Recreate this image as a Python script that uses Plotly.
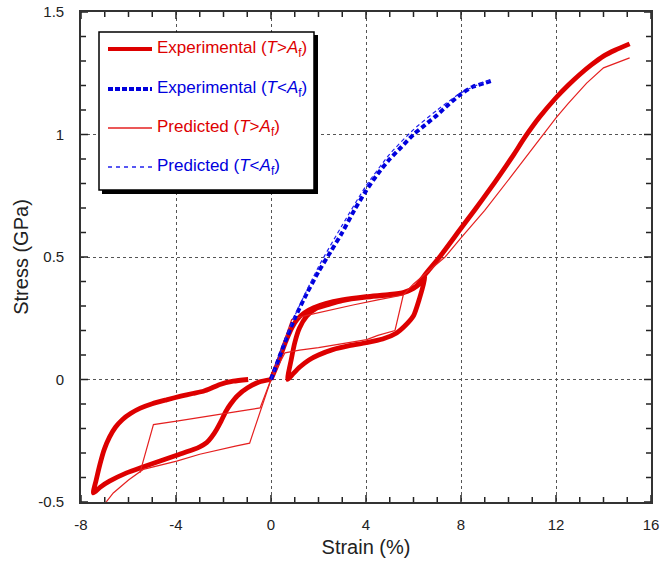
import plotly.graph_objects as go

# ---------------- data (strain in %, stress in GPa) ----------------
# Experimental, T > Af : tension (load, unload, reload up to 15 %)
exp_hot_t_strain = [0, 0.3, 0.6, 0.9, 1.1, 1.4, 1.8, 2.3, 3.0, 4.0, 5.0, 5.6, 6.0, 6.3, 6.5,
                    6.25, 6.0, 5.6, 5.29, 4.7, 4.0, 3.3, 2.6, 2.0, 1.6, 1.2, 0.9, 0.7,
                    0.85, 1.0, 1.2, 1.5, 1.9, 2.4, 3.0, 4.0, 5.0, 5.6, 6.1, 6.5, 7.1, 7.96,
                    8.6, 9.2, 9.64, 10.2, 10.7, 11.3, 12.0, 12.5, 13.0, 13.5, 14.0, 14.5, 15.1]
exp_hot_t_stress = [0, 0.07, 0.15, 0.215, 0.245, 0.272, 0.293, 0.31, 0.325, 0.338, 0.347, 0.356, 0.372, 0.395, 0.42,
                    0.33, 0.26, 0.215, 0.19, 0.165, 0.15, 0.138, 0.122, 0.1, 0.08, 0.05, 0.02, 0.0,
                    0.08, 0.15, 0.21, 0.258, 0.29, 0.305, 0.322, 0.336, 0.345, 0.355, 0.38, 0.43, 0.5, 0.612,
                    0.695, 0.775, 0.835, 0.915, 0.99, 1.07, 1.15, 1.2, 1.245, 1.285, 1.32, 1.345, 1.37]
# Experimental, T > Af : compression (load, unload)
exp_hot_c_strain = [0, -0.5, -1.0, -1.4, -1.7, -1.9, -2.1, -2.29, -2.5, -2.71, -3.0, -3.27, -4.0, -4.67, -5.4,
                    -6.08, -6.8, -7.2, -7.48,
                    -7.36, -7.2, -7.02, -6.8, -6.55, -6.25, -5.9, -5.5, -5.0, -4.4, -3.8, -3.3, -2.85,
                    -2.5, -2.15, -1.59, -0.96]
exp_hot_c_stress = [0, -0.01, -0.035, -0.065, -0.1, -0.13, -0.17, -0.204, -0.235, -0.258, -0.275, -0.286, -0.31, -0.333, -0.357,
                    -0.381, -0.415, -0.44, -0.463,
                    -0.41, -0.345, -0.285, -0.235, -0.195, -0.163, -0.138, -0.117, -0.099, -0.083, -0.068, -0.057, -0.048,
                    -0.035, -0.02, -0.007, 0.0]

# Predicted, T > Af : tension cycle and loading to 15 %
pred_hot_t_strain = [0, 0.87, 1.5, 2.5, 3.5, 4.5, 5.57, 5.22, 4.5, 4.03, 3.0, 2.0, 1.2, 0.59, 0,
                     None, 5.57, 6.0, 6.6, 7.33, 8.0, 9.0, 10.2, 11.47, 12.0, 12.5, 13.29, 14.0, 14.4, 15.1]
pred_hot_t_stress = [0, 0.245, 0.262, 0.285, 0.305, 0.325, 0.345, 0.2, 0.18, 0.163, 0.145, 0.13, 0.12, 0.109, 0,
                     None, 0.345, 0.39, 0.44, 0.5, 0.578, 0.69, 0.84, 1.0, 1.068, 1.125, 1.21, 1.272, 1.287, 1.313]
# Predicted, T > Af : compression cycle
pred_hot_c_strain = [0, -0.9, -1.5, -2.15, -3.0, -3.97, -4.7, -5.38, -6.0, -6.64, -6.92, -7.3,
                     None, -5.52, -4.95, -3.97, -2.57, -1.31, -0.46, 0]
pred_hot_c_stress = [0, -0.26, -0.272, -0.286, -0.305, -0.333, -0.352, -0.367, -0.41, -0.463, -0.497, -0.54,
                     None, -0.381, -0.184, -0.17, -0.15, -0.129, -0.116, 0]

# T < Af : loading only
exp_cold_strain = [0, 0.5, 1.0, 1.5, 2.0, 2.5, 3.0, 3.5, 4.0, 4.5, 5.0, 5.5, 6.0, 6.5, 7.0, 7.5, 8.0, 8.5, 9.0, 9.3]
exp_cold_stress = [0, 0.13, 0.25, 0.35, 0.44, 0.52, 0.6, 0.69, 0.77, 0.84, 0.9, 0.95, 1.0, 1.04, 1.08, 1.125, 1.165, 1.195, 1.21, 1.22]
pred_cold_strain = [0, 0.5, 1.0, 2.0, 3.0, 4.0, 5.0, 6.0, 7.0, 8.0, 9.0, 9.2]
pred_cold_stress = [0, 0.14, 0.26, 0.46, 0.63, 0.79, 0.92, 1.02, 1.1, 1.17, 1.215, 1.22]

# axis ticks
x_range = [-8, 16]
y_range = [-0.5, 1.5]
x_ticks = [-8, -4, 0, 4, 8, 12, 16]
x_tick_text = ["-8", "-4", "0", "4", "8", "12", "16"]
y_ticks = [-0.5, 0, 0.5, 1, 1.5]
y_tick_text = ["-0.5", "0", "0.5", "1", "1.5"]
x_minor_ticks = [v for v in range(-8, 17) if v % 4 != 0]
y_minor_ticks = [round(-0.5 + 0.1 * k, 1) for k in range(21) if k % 5 != 0]

legend_labels = [
    "Experimental (<i>T</i>&gt;<i>A</i><sub>f</sub>)",
    "Experimental (<i>T</i>&lt;<i>A</i><sub>f</sub>)",
    "Predicted (<i>T</i>&gt;<i>A</i><sub>f</sub>)",
    "Predicted (<i>T</i>&lt;<i>A</i><sub>f</sub>)",
]

RED = "#dd0000"
BLUE = "#0000dd"
FONT = "Liberation Sans, Arial, sans-serif"
AXIS_GREY = "#333333"

fig = go.Figure()

fig.add_trace(go.Scatter(
    x=exp_hot_t_strain + [None] + exp_hot_c_strain,
    y=exp_hot_t_stress + [None] + exp_hot_c_stress,
    mode="lines", line=dict(color=RED, width=4.8, shape="spline", smoothing=0.6),
    showlegend=False))
fig.add_trace(go.Scatter(
    x=pred_hot_t_strain + [None] + pred_hot_c_strain,
    y=pred_hot_t_stress + [None] + pred_hot_c_stress,
    mode="lines", line=dict(color="#e52020", width=1.2),
    showlegend=False))
fig.add_trace(go.Scatter(
    x=exp_cold_strain, y=exp_cold_stress,
    mode="lines", line=dict(color=BLUE, width=4, dash="5px,3px", shape="spline", smoothing=0.6),
    showlegend=False))
fig.add_trace(go.Scatter(
    x=pred_cold_strain, y=pred_cold_stress,
    mode="lines", line=dict(color="#2020ee", width=1.2, dash="4px,3px", shape="spline", smoothing=0.6),
    showlegend=False))

# plot-area geometry in pixels, used to place the boxed legend and ticks
L, R, T, B = 81, 10, 12, 59
W, H = 661, 561
PW, PH = W - L - R, H - T - B
X_PER_PX = (x_range[1] - x_range[0]) / PW
Y_PER_PX = (y_range[1] - y_range[0]) / PH


def px(xp):
    return (xp - L) / PW


def py(yp):
    return (H - B - yp) / PH


# inward tick marks on all four sides of the frame
MAJOR_LEN, MINOR_LEN = 7, 5
tick_line = dict(color="#222222", width=1.5)
for xs, ln in ((x_ticks, MAJOR_LEN), (x_minor_ticks, MINOR_LEN)):
    dy = ln * Y_PER_PX
    for v in xs:
        fig.add_shape(type="line", xref="x", yref="y", x0=v, x1=v,
                      y0=y_range[0], y1=y_range[0] + dy, line=tick_line)
        fig.add_shape(type="line", xref="x", yref="y", x0=v, x1=v,
                      y0=y_range[1], y1=y_range[1] - dy, line=tick_line)
for ys, ln in ((y_ticks, MAJOR_LEN), (y_minor_ticks, MINOR_LEN)):
    dx = ln * X_PER_PX
    for v in ys:
        fig.add_shape(type="line", xref="x", yref="y", y0=v, y1=v,
                      x0=x_range[0], x1=x_range[0] + dx, line=tick_line)
        fig.add_shape(type="line", xref="x", yref="y", y0=v, y1=v,
                      x0=x_range[1], x1=x_range[1] - dx, line=tick_line)

# legend frame with drop shadow
fig.add_shape(type="rect", xref="paper", yref="paper",
              x0=px(102), x1=px(318), y0=py(194), y1=py(35),
              fillcolor="black", line=dict(width=0))
fig.add_shape(type="rect", xref="paper", yref="paper",
              x0=px(99), x1=px(314), y0=py(190), y1=py(32),
              fillcolor="white", line=dict(color="black", width=1.5))

legend_styles = [
    dict(color=RED, width=4, dash="solid"),
    dict(color=BLUE, width=4, dash="5px,2px"),
    dict(color="#e52020", width=1.3, dash="solid"),
    dict(color="#2020ee", width=1.3, dash="4px,4px"),
]
legend_colors = [RED, BLUE, RED, BLUE]
legend_rows = [49, 89, 128, 167]
for label, style, col, row in zip(legend_labels, legend_styles, legend_colors, legend_rows):
    fig.add_shape(type="line", xref="paper", yref="paper",
                  x0=px(108), x1=px(152), y0=py(row), y1=py(row), line=style)
    fig.add_annotation(xref="paper", yref="paper", x=px(155), y=py(row),
                       xanchor="left", yanchor="middle", showarrow=False,
                       text=label, font=dict(family=FONT, size=17, color=col))

axis_common = dict(
    automargin=False,
    showline=True, linecolor=AXIS_GREY, linewidth=1.6, mirror=True,
    ticks="",
    showgrid=True, gridcolor="#555555", griddash="dot", gridwidth=1,
    zeroline=False,
    tickfont=dict(family=FONT, size=15, color="#222222"),
    title_font=dict(family=FONT, size=20, color="#222222"),
)

fig.update_xaxes(
    range=x_range, tickmode="array", tickvals=x_ticks, ticktext=x_tick_text,
    title_text="Strain (%)", title_standoff=8, ticklabelstandoff=8,
    **axis_common)
fig.update_yaxes(
    range=y_range, tickmode="array", tickvals=y_ticks, ticktext=y_tick_text,
    title_text="Stress (GPa)", title_standoff=4, ticklabelstandoff=12,
    **axis_common)

fig.update_layout(
    width=W, height=H,
    margin=dict(l=L, r=R, t=T, b=B),
    paper_bgcolor="white", plot_bgcolor="white",
    showlegend=False,
)

fig.write_html("out.html")
